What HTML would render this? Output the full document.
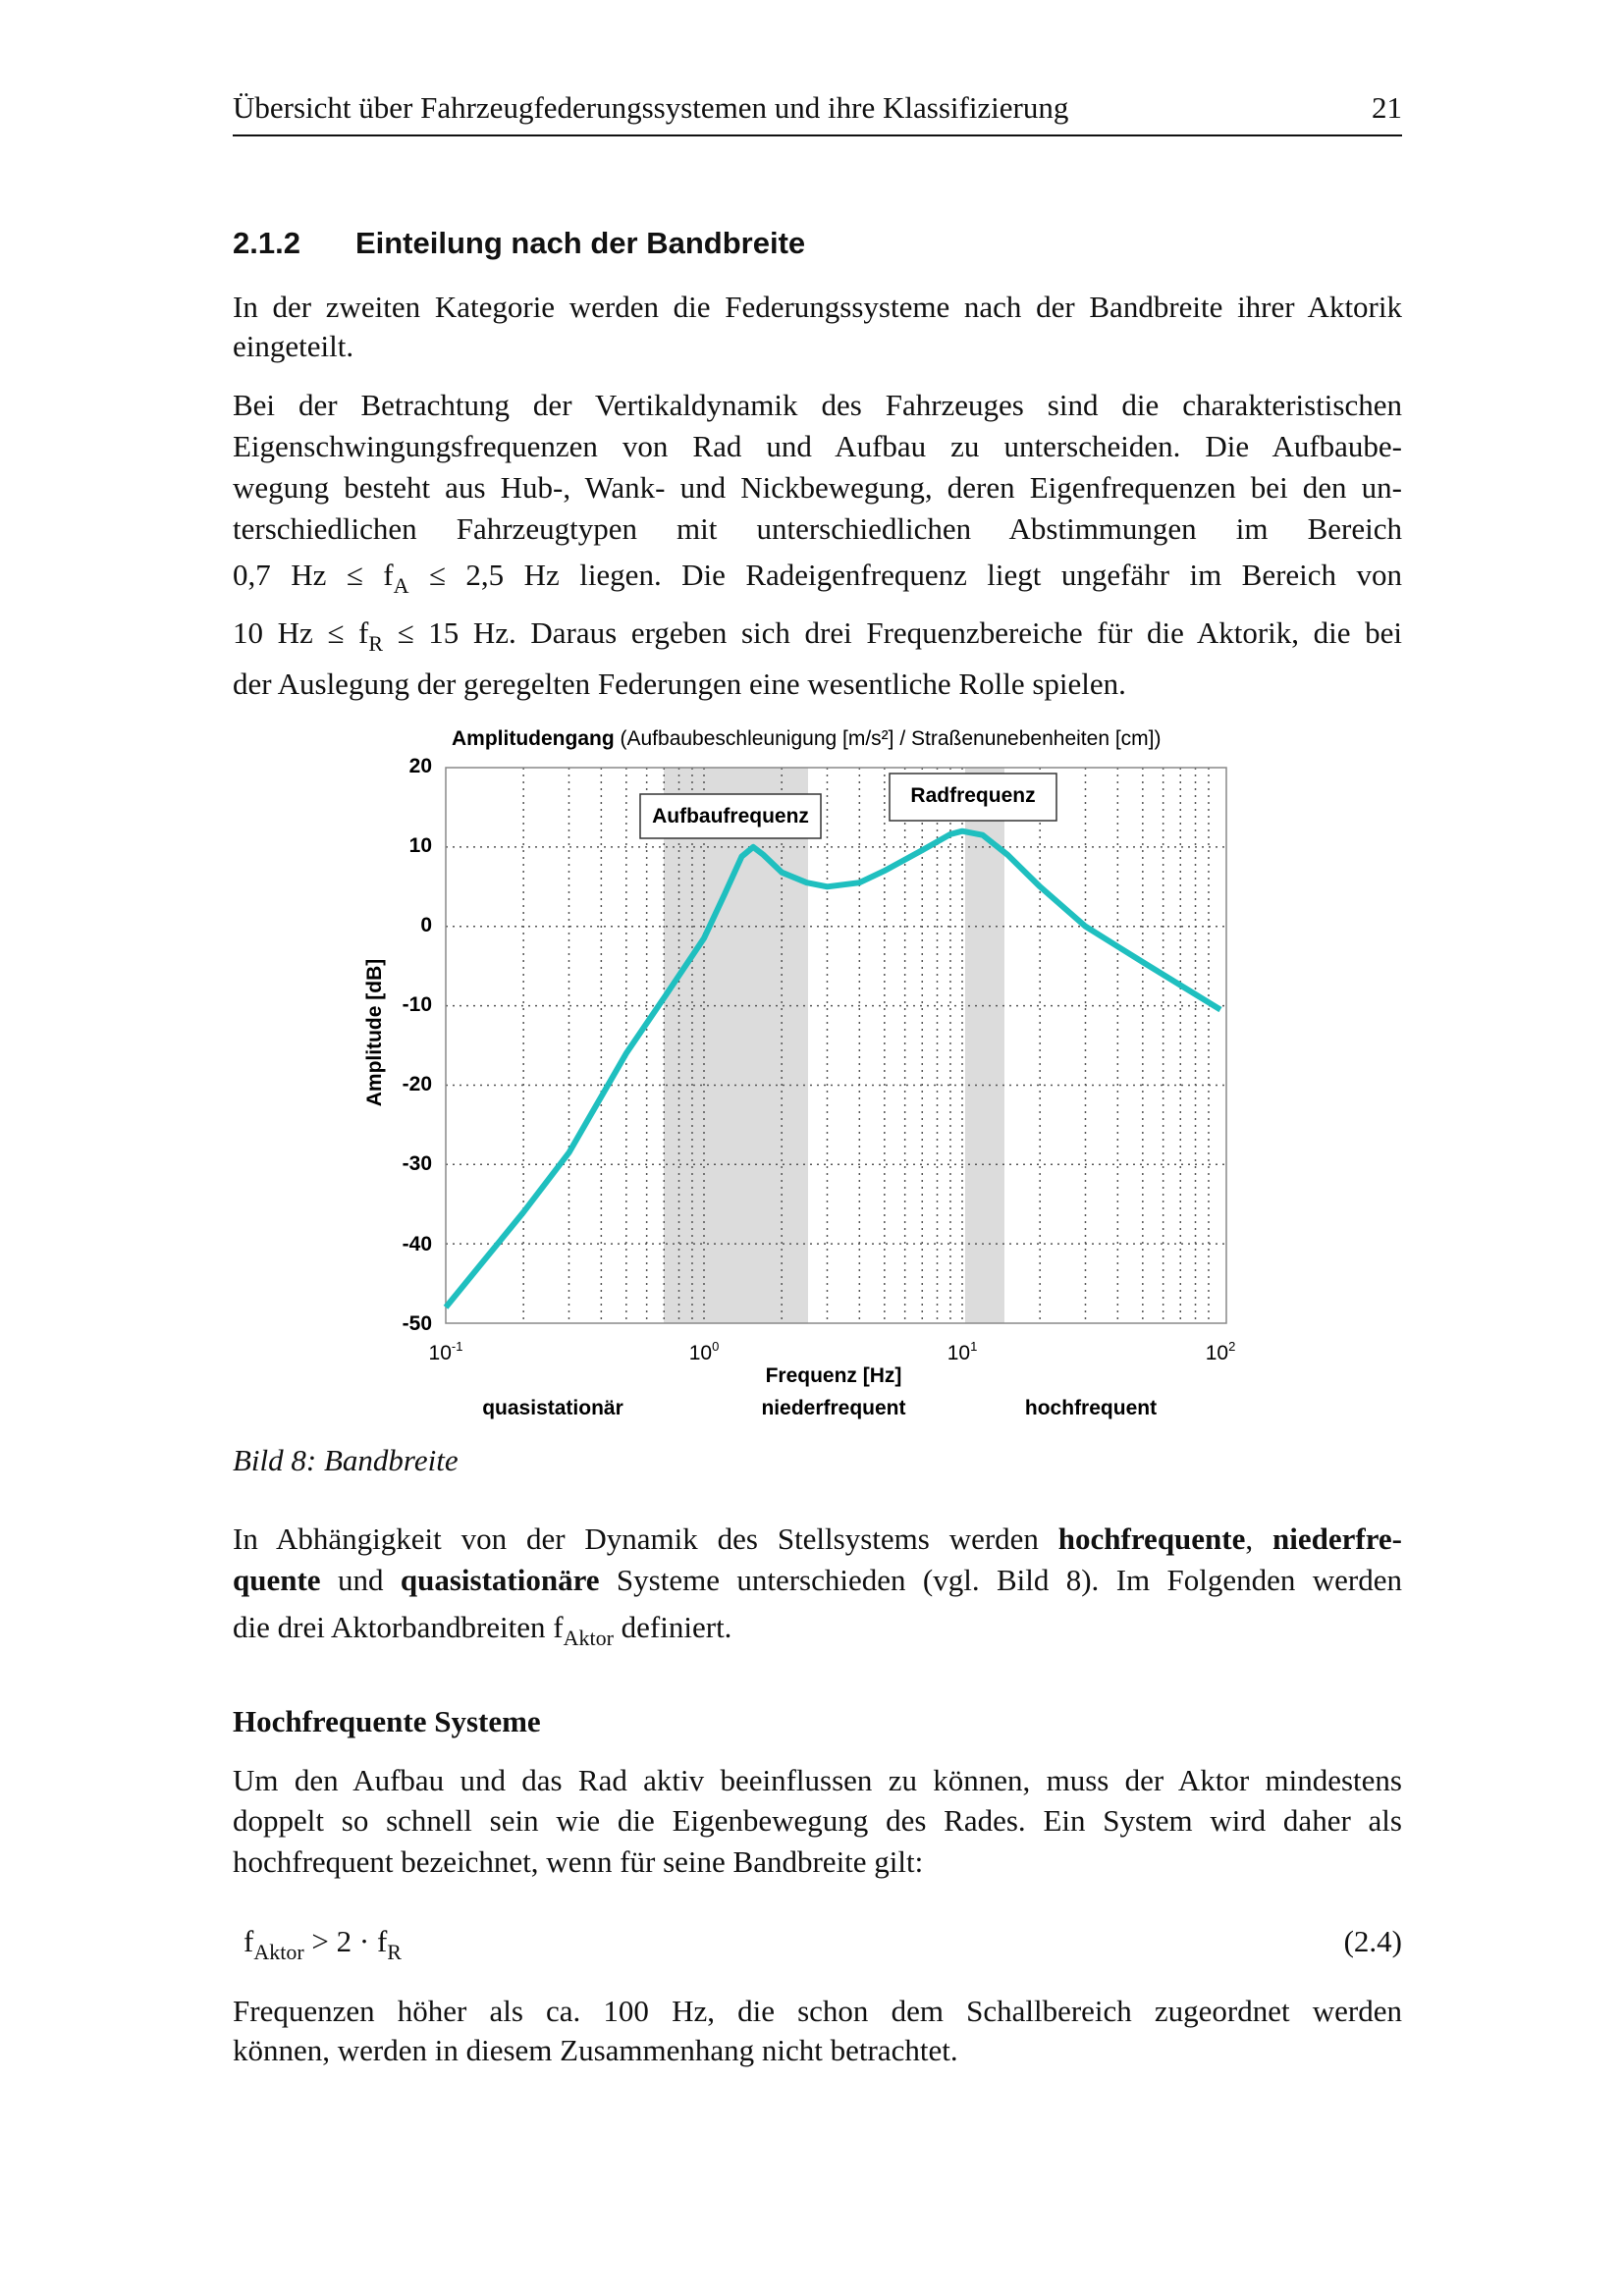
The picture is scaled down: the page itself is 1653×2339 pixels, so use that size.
<!DOCTYPE html>
<html><head><meta charset="utf-8"><style>
body{margin:0;background:#fff;}
#p{position:relative;width:1653px;height:2339px;overflow:hidden;font-family:"Liberation Serif",serif;color:#111;}
.l{position:absolute;left:237px;width:1191px;font-size:31px;line-height:36px;white-space:nowrap;}
.j{text-align:justify;text-align-last:justify;white-space:normal;}
.s{font-family:"Liberation Sans",sans-serif;}
sub{font-size:22px;vertical-align:-8px;line-height:0;}
</style></head><body><div id="p">
<div class="l" style="top:92px">Übersicht über Fahrzeugfederungssystemen und ihre Klassifizierung<span style="position:absolute;right:0">21</span></div>
<div style="position:absolute;left:237px;top:137px;width:1191px;height:2px;background:#111"></div>
<div class="l s" style="top:230px;font-weight:bold;font-size:31px">2.1.2<span style="margin-left:56px">Einteilung nach der Bandbreite</span></div>
<div class="l j" style="top:295px">In der zweiten Kategorie werden die Federungssysteme nach der Bandbreite ihrer Aktorik</div>
<div class="l" style="top:335px">eingeteilt.</div>
<div class="l j" style="top:395px">Bei der Betrachtung der Vertikaldynamik des Fahrzeuges sind die charakteristischen</div>
<div class="l j" style="top:437px">Eigenschwingungsfrequenzen von Rad und Aufbau zu unterscheiden. Die Aufbaube-</div>
<div class="l j" style="top:479px">wegung besteht aus Hub-, Wank- und Nickbewegung, deren Eigenfrequenzen bei den un-</div>
<div class="l j" style="top:521px">terschiedlichen Fahrzeugtypen mit unterschiedlichen Abstimmungen im Bereich</div>
<div class="l j" style="top:568px">0,7 Hz ≤ f<sub>A</sub> ≤ 2,5 Hz liegen. Die Radeigenfrequenz liegt ungefähr im Bereich von</div>
<div class="l j" style="top:627px">10 Hz ≤ f<sub>R</sub> ≤ 15 Hz. Daraus ergeben sich drei Frequenzbereiche für die Aktorik, die bei</div>
<div class="l" style="top:679px">der Auslegung der geregelten Federungen eine wesentliche Rolle spielen.</div>

<svg style="position:absolute;left:0;top:0" width="1653" height="1480" font-family="Liberation Sans, sans-serif">
<text x="460" y="759" font-size="21" font-weight="bold">Amplitudengang <tspan font-weight="normal">(Aufbaubeschleunigung [m/s²] / Straßenunebenheiten [cm])</tspan></text>
<rect x="676" y="782" width="147" height="566" fill="#dcdcdc"/>
<rect x="983" y="782" width="40" height="566" fill="#dcdcdc"/>
<g stroke="#555" stroke-width="1.5" stroke-dasharray="2,5" id="g"></g>
<rect x="454" y="782" width="795" height="566" fill="none" stroke="#888" stroke-width="1.5"/>
<g font-size="21" font-weight="bold" text-anchor="end">
<text x="440" y="787">20</text><text x="440" y="868">10</text><text x="440" y="949">0</text><text x="440" y="1030">-10</text><text x="440" y="1111">-20</text><text x="440" y="1192">-30</text><text x="440" y="1274">-40</text><text x="440" y="1355">-50</text></g>
<g font-size="21" text-anchor="middle">
<text x="454" y="1385">10<tspan font-size="13" dy="-9">-1</tspan></text>
<text x="717" y="1385">10<tspan font-size="13" dy="-9">0</tspan></text>
<text x="980" y="1385">10<tspan font-size="13" dy="-9">1</tspan></text>
<text x="1243" y="1385">10<tspan font-size="13" dy="-9">2</tspan></text>
<text x="849" y="1408" font-weight="bold">Frequenz  [Hz]</text>
<g font-weight="bold"><text x="563" y="1441">quasistationär</text><text x="849" y="1441">niederfrequent</text><text x="1111" y="1441">hochfrequent</text></g>
</g>
<text transform="translate(388,1052) rotate(-90)" font-size="21" font-weight="bold" text-anchor="middle">Amplitude [dB]</text>
<rect x="652" y="809" width="184" height="45" fill="#fff" stroke="#333" stroke-width="1.5"/>
<text x="744" y="838" font-size="21" font-weight="bold" text-anchor="middle">Aufbaufrequenz</text>
<rect x="906" y="788" width="170" height="48" fill="#fff" stroke="#333" stroke-width="1.5"/>
<text x="991" y="817" font-size="21" font-weight="bold" text-anchor="middle">Radfrequenz</text>
<path id="c" fill="none" stroke="#1fbfbf" stroke-width="6" stroke-linejoin="round" d=""/>
</svg>

<div class="l" style="top:1470px;font-style:italic">Bild 8: Bandbreite</div>
<div class="l j" style="top:1550px">In Abhängigkeit von der Dynamik des Stellsystems werden <b>hochfrequente</b>, <b>niederfre-</b></div>
<div class="l j" style="top:1592px"><b>quente</b> und <b>quasistationäre</b> Systeme unterschieden (vgl. Bild 8). Im Folgenden werden</div>
<div class="l" style="top:1640px">die drei Aktorbandbreiten f<sub>Aktor</sub> definiert.</div>
<div class="l" style="top:1736px;font-weight:bold">Hochfrequente Systeme</div>
<div class="l j" style="top:1796px">Um den Aufbau und das Rad aktiv beeinflussen zu können, muss der Aktor mindestens</div>
<div class="l j" style="top:1837px">doppelt so schnell sein wie die Eigenbewegung des Rades. Ein System wird daher als</div>
<div class="l" style="top:1879px">hochfrequent bezeichnet, wenn für seine Bandbreite gilt:</div>
<div class="l" style="top:1960px;left:248px;width:1180px">f<sub>Aktor</sub> &gt; 2 · f<sub>R</sub><span style="position:absolute;right:0">(2.4)</span></div>
<div class="l j" style="top:2031px">Frequenzen höher als ca. 100 Hz, die schon dem Schallbereich zugeordnet werden</div>
<div class="l" style="top:2071px">können, werden in diesem Zusammenhang nicht betrachtet.</div>
</div>
<script>
var X=f=>454+263*(Math.log10(f)+1), Y=d=>782+(20-d)*8.086;
var g=document.getElementById('g'),h='';
for(var e=-1;e<2;e++)for(var k=1;k<10;k++){var x=X(k*Math.pow(10,e));if(x>454.5)h+='<line x1="'+x+'" y1="782" x2="'+x+'" y2="1348"/>';}
for(var d=10;d>-50;d-=10)h+='<line x1="454" y1="'+Y(d)+'" x2="1249" y2="'+Y(d)+'"/>';
g.innerHTML=h;
var pts=[[0.1,-48],[0.2,-36],[0.3,-28.5],[0.5,-16],[0.7,-9],[1,-1.5],[1.2,4],[1.4,8.8],[1.55,10],[1.7,9],[2,6.8],[2.5,5.5],[3,5],[4,5.5],[5,7],[7,9.6],[9,11.6],[10,12],[12,11.5],[15,9],[20,5],[30,0],[50,-4.5],[100,-10.5]];
document.getElementById('c').setAttribute('d','M'+pts.map(p=>X(p[0]).toFixed(1)+','+Y(p[1]).toFixed(1)).join(' L'));
</script>
</body></html>
